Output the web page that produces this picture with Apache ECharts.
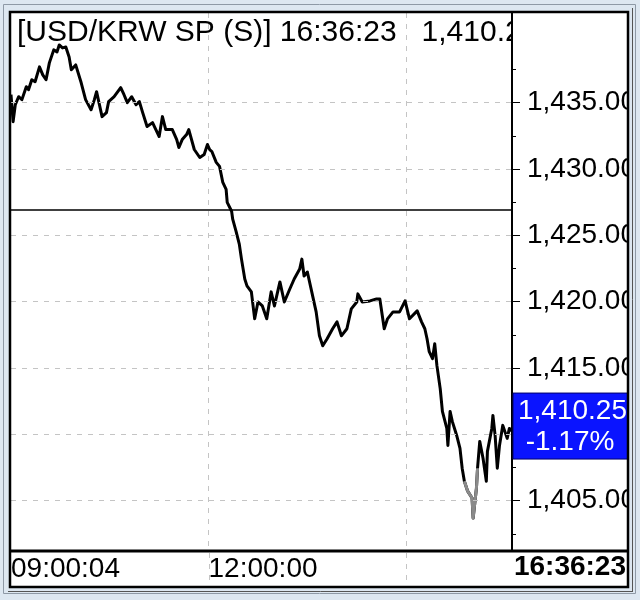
<!DOCTYPE html>
<html><head><meta charset="utf-8">
<script src="https://cdn.jsdelivr.net/npm/echarts@6/dist/echarts.min.js"></script>
<style>html,body{margin:0;padding:0;background:#fff;}#c{width:640px;height:600px;}</style>
</head><body><div id="c"></div>
<script>
// ---- data ----
const times = ['09:00:04','09:02','09:04','09:07','09:10','09:14','09:16','09:19','09:22','09:26','09:29','09:32','09:35','09:39','09:42','09:44','09:47','09:50','09:53','09:55','09:59',
'10:04','10:08','10:13','10:16','10:18','10:23','10:27','10:29','10:34','10:40','10:43','10:46','10:50','10:54','10:57',
'11:00','11:04','11:09','11:12','11:15','11:18','11:21','11:27','11:31','11:33','11:36','11:40','11:42','11:47','11:52','11:56','11:59',
'12:01','12:03','12:07','12:10','12:13','12:16','12:17','12:21','12:22','12:25','12:28','12:30','12:33','12:35','12:39','12:42','12:45','12:49','12:53','12:57',
'13:00','13:05','13:09','13:14','13:18','13:23','13:25','13:27','13:30','13:34','13:38','13:41','13:44','13:48','13:53','13:57',
'14:01','14:06','14:10','14:15','14:16','14:20','14:27','14:33','14:36','14:40','14:43','14:48','14:54','14:59',
'15:03','15:10','15:14','15:17','15:19','15:21','15:24','15:26','15:28','15:31','15:33','15:37','15:38','15:40','15:42','15:46','15:49','15:51','15:53','15:56',
'16:00','16:01','16:04','16:05','16:07','16:10','16:13','16:14','16:18','16:19','16:21','16:23','16:25','16:28','16:32','16:34','16:36:23'];
const prices = [1435.60,1433.57,1434.85,1435.45,1435.23,1436.20,1435.98,1436.73,1436.58,1437.70,1437.10,1436.73,1438.00,1438.98,1438.83,1439.35,1439.13,1439.20,1438.45,1437.48,1437.85,
1436.50,1435.23,1434.47,1435.23,1435.83,1433.95,1434.25,1435.08,1435.45,1436.13,1435.60,1435.00,1435.45,1434.85,1435.08,
1434.25,1433.20,1433.50,1432.97,1432.45,1433.95,1432.97,1432.97,1432.22,1431.62,1432.22,1432.60,1432.97,1431.47,1430.87,1431.10,1431.85,
1431.47,1431.32,1430.50,1430.20,1428.99,1428.47,1427.49,1426.82,1426.22,1425.32,1424.34,1423.21,1421.71,1421.19,1420.74,1418.71,1419.98,1419.68,1418.71,1420.74,
1419.68,1421.49,1419.98,1420.96,1421.71,1422.46,1423.21,1421.94,1422.24,1420.74,1419.23,1417.43,1416.68,1417.21,1417.96,1418.48,
1417.43,1417.96,1419.46,1419.98,1420.59,1419.98,1420.06,1420.21,1420.21,1417.96,1418.71,1419.23,1419.23,1420.06,
1418.71,1419.31,1418.48,1417.96,1417.21,1416.23,1415.71,1416.83,1415.18,1413.45,1411.73,1410.45,1409.17,1411.73,1410.98,1409.92,1408.95,1407.45,1406.47,1405.72,
1405.20,1403.69,1405.95,1407.45,1409.47,1408.20,1406.47,1408.72,1410.45,1411.43,1409.92,1407.45,1409.17,1410.68,1409.70,1410.45,1410.25];
const priceTicks = [1405,1410,1415,1420,1425,1430,1435];
const priceMinorTicks = [1402.5,1407.5,1412.5,1417.5,1422.5,1427.5,1432.5,1437.5];
const timeGridTicks = ['12:00:00','15:00:00'];
const timeLabelTicks = ['09:00:04','12:00:00'];
const sessionStart = '09:00:04', sessionEnd = '16:36:23';
const priceMin = 1401.21, priceMax = 1441.76;
const prevClose = 1426.9;
const lastPrice = 1410.25, changePct = -1.17;
const lowWindow = ['15:53','16:05'];
const titleText = '[USD/KRW SP (S)] 16:36:23   1,410.25';

// ---- helpers ----
const FONT = '"Liberation Sans", Arial, sans-serif';
function toSec(t){const p=t.split(':').map(Number);return (p[0]-9)*3600+p[1]*60+(p[2]||0);}
function secLabel(s){s=Math.round(s);const h=9+Math.floor(s/3600),m=Math.floor(s%3600/60),ss=s%60;const z=n=>String(n).padStart(2,'0');return z(h)+':'+z(m)+':'+z(ss);}
function fmt(v){return v.toFixed(2).replace(/\B(?=(\d{3})+(?!\d))/g, ',');}

const allPts = times.map((t,i)=>[toSec(t),prices[i]]);
const lo0 = toSec(lowWindow[0]), lo1 = toSec(lowWindow[1]);
const lowPts = allPts.filter(p=>p[0]>=lo0 && p[0]<=lo1);

const chart = echarts.init(document.getElementById('c'), null, {renderer:'canvas'});
const option = {
  animation:false,
  backgroundColor:'#dde7f1',
  grid:{left:11,right:128,top:13,bottom:49,containLabel:false},
  xAxis:{type:'value',min:toSec(sessionStart),max:toSec(sessionEnd),z:1,
    axisLine:{show:false},
    axisTick:{show:false,customValues:timeGridTicks.map(toSec)},
    axisLabel:{customValues:timeLabelTicks.map(toSec),formatter:secLabel,align:'left',verticalAlign:'top',margin:4,
      fontSize:28,fontFamily:FONT,color:'#000'},
    splitLine:{show:true,lineStyle:{color:'#c4c4c4',type:[5,6],width:1}}},
  yAxis:[{type:'value',position:'right',min:priceMin,max:priceMax,z:20,
    axisLine:{show:true,lineStyle:{color:'#000',width:2}},
    axisTick:{show:true,customValues:priceTicks,length:8,lineStyle:{color:'#000',width:1}},
    axisLabel:{customValues:priceTicks,formatter:fmt,margin:15,fontSize:28,fontFamily:FONT,color:'#000'},
    splitLine:{show:true,lineStyle:{color:'#c4c4c4',type:[5,6],width:1}}},
   {type:'value',position:'right',min:priceMin,max:priceMax,z:20,
    axisLine:{show:false},
    axisTick:{show:true,customValues:priceMinorTicks,length:4,lineStyle:{color:'#000',width:1}},
    axisLabel:{show:false},splitLine:{show:false}}],
  series:[{type:'line',data:allPts,symbol:'none',z:3,
    lineStyle:{width:3,color:'#000',join:'round'},
    markLine:{silent:true,symbol:'none',label:{show:false},lineStyle:{color:'#000',type:'solid',width:1.5},data:[{yAxis:prevClose}]}},
   {type:'line',data:lowPts,symbol:'none',z:4,lineStyle:{width:3,color:'#8a8a8a',join:'round'}}]
};
chart.setOption(option);

const xR = chart.convertToPixel({xAxisIndex:0}, toSec(sessionEnd));
const yT = chart.convertToPixel({yAxisIndex:0}, priceMax);
const yB = chart.convertToPixel({yAxisIndex:0}, priceMin);
const py = chart.convertToPixel({yAxisIndex:0}, lastPrice);
const frameR = 628, frameB = 587;
const g = [];
g.push({type:'rect',z:0,shape:{x:10,y:12,width:frameR-10,height:frameB-12},style:{fill:'#fff'},silent:true});
g.push({type:'text',z:6,style:{text:titleText,x:17,y:33,font:'30px '+FONT,fill:'#000',verticalAlign:'middle'},silent:true});
g.push({type:'rect',z:10,shape:{x:xR+1,y:yT,width:frameR-xR-1,height:yB-yT},style:{fill:'#fff'},silent:true});
timeGridTicks.forEach(t=>{const x=Math.round(chart.convertToPixel({xAxisIndex:0},toSec(t)))+0.5;
  g.push({type:'line',z:1,shape:{x1:x,y1:yB+2,x2:x,y2:frameB-2},style:{stroke:'#c4c4c4',lineDash:[5,6],lineWidth:1},silent:true});});
g.push({type:'line',z:40,shape:{x1:10,y1:yB,x2:frameR,y2:yB},style:{stroke:'#000',lineWidth:3},silent:true});
g.push({type:'text',z:40,style:{text:sessionEnd,x:626,y:567,font:'bold 28px '+FONT,fill:'#000',align:'right',verticalAlign:'middle'},silent:true});
const boxTop = py-38, boxH = 66;
g.push({type:'rect',z:30,shape:{x:xR+1,y:boxTop,width:frameR-xR-1,height:boxH},style:{fill:'#0a14ff',stroke:'#00006a',lineWidth:1},silent:true});
g.push({type:'text',z:31,style:{text:fmt(lastPrice),x:frameR-1,y:boxTop+18,font:'28px '+FONT,fill:'#fff',align:'right',verticalAlign:'middle'},silent:true});
g.push({type:'text',z:31,style:{text:changePct.toFixed(2)+'%',x:(xR+frameR)/2,y:boxTop+49,font:'28px '+FONT,fill:'#fff',align:'center',verticalAlign:'middle'},silent:true});
g.push({type:'rect',z:45,shape:{x:frameR,y:0,width:640-frameR,height:600},style:{fill:'#dde7f1'},silent:true});
g.push({type:'line',z:46,shape:{x1:632.5,y1:8,x2:632.5,y2:591},style:{stroke:'#555',lineWidth:1},silent:true});
g.push({type:'line',z:46,shape:{x1:8,y1:591.5,x2:633,y2:591.5},style:{stroke:'#555',lineWidth:1},silent:true});
g.push({type:'rect',z:50,shape:{x:3.5,y:4.5,width:632,height:589},style:{fill:null,stroke:'#8e99a6',lineWidth:1},silent:true});
g.push({type:'rect',z:50,shape:{x:10,y:12,width:frameR-10,height:frameB-12},style:{fill:null,stroke:'#000',lineWidth:2.5},silent:true});
chart.setOption({graphic:g});
</script></body></html>
